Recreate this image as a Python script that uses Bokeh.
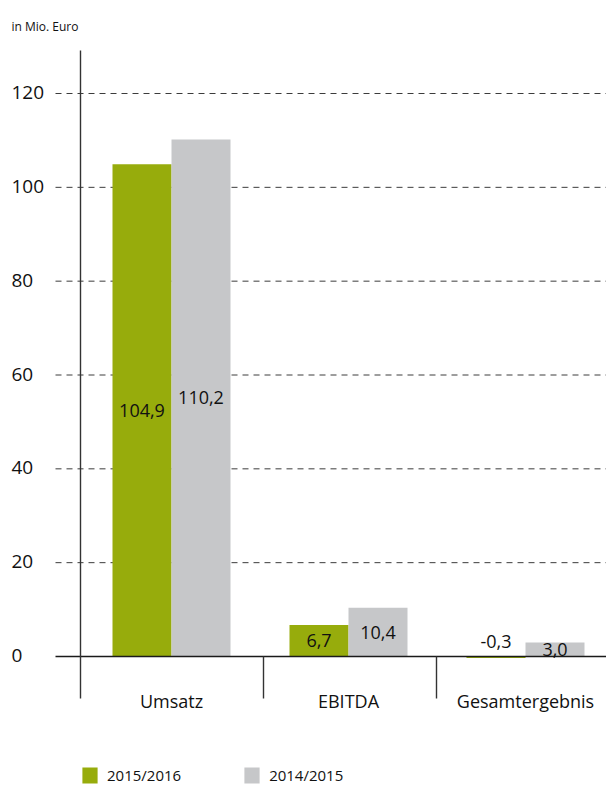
from bokeh.plotting import figure
from bokeh.models import ColumnDataSource, Legend, LegendItem, Range1d
from bokeh.core.properties import value
from bokeh.embed import file_html
from bokeh.resources import INLINE

# ---- data ----
categories = ["Umsatz", "EBITDA", "Gesamtergebnis"]
series_names = ["2015/2016", "2014/2015"]
values_2015_16 = [104.9, 6.7, -0.3]
values_2014_15 = [110.2, 10.4, 3.0]
labels_2015_16 = ["104,9", "6,7", "-0,3"]
labels_2014_15 = ["110,2", "10,4", "3,0"]
y_ticks = [0, 20, 40, 60, 80, 100, 120]
y_tick_labels = ["0", "20", "40", "60", "80", "100", "120"]
unit_label = "in Mio. Euro"

# ---- styling / layout ----
GREEN = "#97ac0c"
GRAY = "#c6c7c9"
FONT = "Open Sans"
TEXT = "#111111"
W, H = 606, 785
ORIGIN = 0  # page offset of the canvas
# layout helpers: page pixel -> data units
X0_PX, DX_PX = 171.0, 177.0          # centre of first category, category spacing
Y0_PX, DY_PX = 656.0, (656.0 - 93.0) / 120.0


def px2x(px):
    return (px - X0_PX) / DX_PX


def px2y(py):
    return (Y0_PX - py) / DY_PX


p = figure(width=W, height=H,
           x_range=Range1d(px2x(ORIGIN), px2x(ORIGIN + W)),
           y_range=Range1d(px2y(ORIGIN + H), px2y(ORIGIN)),
           x_axis_type=None, y_axis_type=None,
           toolbar_location=None, output_backend="svg",
           min_border=0, outline_line_color=None)
p.background_fill_color = "white"
p.border_fill_color = "white"

# dashed grid lines
grid_vals = [t for t in y_ticks if t != 0]
p.segment(x0=px2x(55), x1=px2x(606), y0=grid_vals, y1=grid_vals,
          line_color="#3c3c3c", line_width=1, line_dash="6 5")

# bars
bw = 1.0 / 3.0
idx = list(range(len(categories)))


def label_pos(vals):
    ys = [v / 2 if v > 0 else 0 for v in vals]
    offs = [0 if v > 0 else -15 for v in vals]
    return ys, offs


ly_a, lo_a = label_pos(values_2015_16)
ly_b, lo_b = label_pos(values_2014_15)
src_a = ColumnDataSource(dict(x=[i - bw / 2 for i in idx], top=values_2015_16,
                              lab=labels_2015_16, ly=ly_a, lo=lo_a))
src_b = ColumnDataSource(dict(x=[i + bw / 2 for i in idx], top=values_2014_15,
                              lab=labels_2014_15, ly=ly_b, lo=lo_b))
r_a = p.vbar(x="x", top="top", bottom=0, width=bw, fill_color=GREEN,
             line_color=None, source=src_a)
r_b = p.vbar(x="x", top="top", bottom=0, width=bw, fill_color=GRAY,
             line_color=None, source=src_b)

# zero line
p.segment(x0=px2x(55), x1=px2x(606), y0=0, y1=0, line_color="#1a1a1a", line_width=1.3)

# vertical axis line and category separators
p.segment(x0=px2x(80), x1=px2x(80), y0=px2y(698), y1=px2y(50),
          line_color="#333333", line_width=1.4)
sep_x = [px2x(263), px2x(436)]
p.segment(x0=sep_x, x1=sep_x, y0=0, y1=px2y(698),
          line_color="#333333", line_width=1.4)

# tick labels
p.text(x=px2x(11), y=y_ticks, text=y_tick_labels, y_offset=-1,
       text_font=value(FONT), text_font_size="19px", text_color=TEXT,
       text_align="left", text_baseline="alphabetic")

# category labels
p.text(x=idx, y=0, text=categories, y_offset=44,
       text_font=value(FONT), text_font_size="18px", text_color=TEXT,
       text_align="center", text_baseline="alphabetic")

# data labels
for src in (src_a, src_b):
    p.text(x="x", y="ly", text="lab", y_offset="lo", source=src,
           text_font=value(FONT), text_font_size="18px", text_color=TEXT,
           text_align="center", text_baseline="middle")

# unit label
p.text(x=px2x(11), y=px2y(26), text=[unit_label],
       text_font=value(FONT), text_font_size="12px", text_color=TEXT,
       text_align="left", text_baseline="alphabetic")

legend = Legend(items=[LegendItem(label=series_names[0], renderers=[r_a]),
                       LegendItem(label=series_names[1], renderers=[r_b])],
                orientation="horizontal", location=(80 - ORIGIN, 0),
                padding=0, margin=0, spacing=61,
                glyph_width=19, glyph_height=20, label_height=20,
                label_standoff=8, label_width=74,
                label_text_font=FONT, label_text_font_size="15px",
                label_text_color=TEXT,
                border_line_color=None, background_fill_alpha=0)
p.add_layout(legend)

open("out.html", "w").write(file_html(p, INLINE))
